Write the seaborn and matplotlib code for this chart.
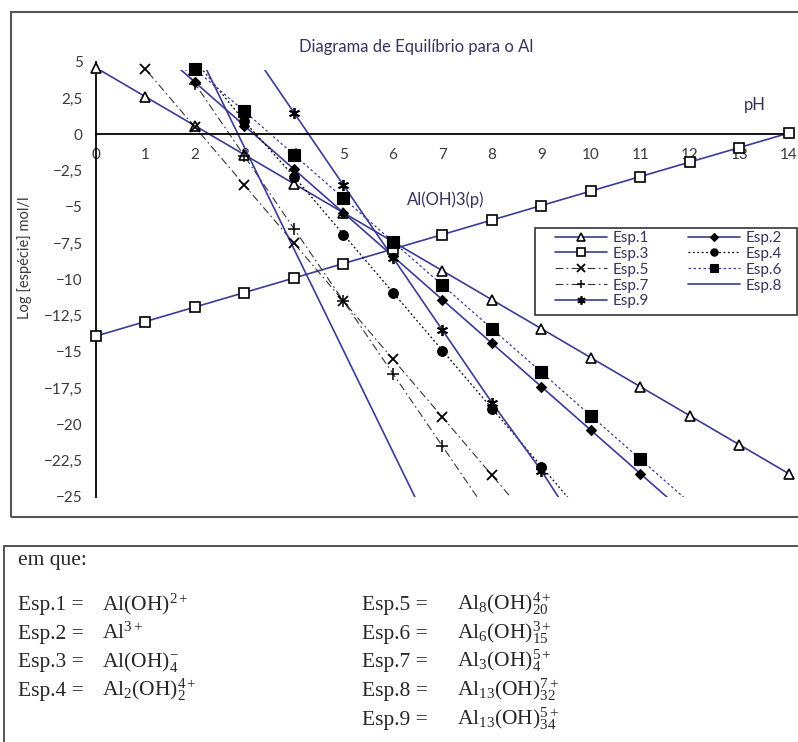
import matplotlib
matplotlib.use("Agg")
import matplotlib.pyplot as plt
import seaborn as sns
from matplotlib.patches import Rectangle
from matplotlib.lines import Line2D
from matplotlib.transforms import Bbox, TransformedBbox

sns.set_style("white")
plt.rcParams['font.family'] = ['Lato', 'DejaVu Sans']
plt.rcParams['mathtext.fontset'] = 'custom'
plt.rcParams['mathtext.rm'] = 'Liberation Serif'
plt.rcParams['mathtext.it'] = 'Liberation Serif:italic'

# ---------- data (log concentration vs pH) ----------
ph1 = [0, 1, 2, 3, 4, 5, 6, 7, 8, 9, 10, 11, 12, 13, 14]
esp1 = [4.6, 2.6, 0.6, -1.4, -3.4, -5.4, -7.4, -9.4, -11.4, -13.4, -15.4, -17.4, -19.4, -21.4, -23.4]

ph2 = [1, 2, 3, 4, 5, 6, 7, 8, 9, 10, 11, 12]
esp2 = [6.6, 3.6, 0.6, -2.4, -5.4, -8.4, -11.4, -14.4, -17.4, -20.4, -23.4, -26.4]

ph3 = [0, 1, 2, 3, 4, 5, 6, 7, 8, 9, 10, 11, 12, 13, 14]
esp3 = [-13.9, -12.9, -11.9, -10.9, -9.9, -8.9, -7.9, -6.9, -5.9, -4.9, -3.9, -2.9, -1.9, -0.9, 0.1]

ph4 = [2, 3, 4, 5, 6, 7, 8, 9, 10]
esp4 = [5.1, 0.9, -2.9, -6.9, -10.9, -14.9, -18.9, -22.9, -26.9]

ph5 = [0, 1, 2, 3, 4, 5, 6, 7, 8, 9]
esp5 = [8.5, 4.5, 0.5, -3.5, -7.5, -11.5, -15.5, -19.5, -23.5, -27.5]

ph6 = [1, 2, 3, 4, 5, 6, 7, 8, 9, 10, 11, 12]
esp6 = [7.6, 4.5, 1.6, -1.4, -4.4, -7.4, -10.4, -13.4, -16.4, -19.4, -22.4, -25.4]

ph7 = [1, 2, 3, 4, 5, 6, 7, 8]
esp7 = [8.5, 3.5, -1.5, -6.5, -11.5, -16.5, -21.5, -26.5]

ph8 = [2, 3, 4, 5, 6, 7]
esp8 = [6.1, -0.9, -7.9, -14.9, -21.9, -28.9]

ph9 = [3, 4, 5, 6, 7, 8, 9, 10]
esp9 = [6.5, 1.5, -3.5, -8.5, -13.5, -18.5, -23.2, -28.5]

x_ticks = [0, 1, 2, 3, 4, 5, 6, 7, 8, 9, 10, 11, 12, 13, 14]
y_ticks = [5, 2.5, 0, -2.5, -5, -7.5, -10, -12.5, -15, -17.5, -20, -22.5, -25]
y_tick_labels = ['5', '2,5', '0', '\u22122,5', '\u22125', '\u22127,5', '\u221210', '\u221212,5',
                 '\u221215', '\u221217,5', '\u221220', '\u221222,5', '\u221225']

names = ['Esp.1', 'Esp.2', 'Esp.3', 'Esp.4', 'Esp.5', 'Esp.6', 'Esp.7', 'Esp.8', 'Esp.9']
formulas = [r'$\mathrm{Al(OH)^{2+}}$', r'$\mathrm{Al^{3+}}$', r'$\mathrm{Al(OH)_4^{-}}$',
            r'$\mathrm{Al_2(OH)_2^{4+}}$', r'$\mathrm{Al_8(OH)_{20}^{4+}}$',
            r'$\mathrm{Al_6(OH)_{15}^{3+}}$', r'$\mathrm{Al_3(OH)_4^{5+}}$',
            r'$\mathrm{Al_{13}(OH)_{32}^{7+}}$', r'$\mathrm{Al_{13}(OH)_{34}^{5+}}$']

NAVY = '#3b3b96'
DASHDOT = (0, (7, 3, 1.5, 3))

styles = [
    dict(color=NAVY, lw=1.2, ls='-', marker='^', ms=7, mfc='white', mec='black', mew=1.2),
    dict(color=NAVY, lw=1.2, ls='-', marker='D', ms=5, mfc='black', mec='black', mew=0.8),
    dict(color=NAVY, lw=1.2, ls='-', marker='s', ms=7, mfc='white', mec='black', mew=1.2),
    dict(color='black', lw=0.9, ls=(0, (1.5, 2)), marker='o', ms=7, mfc='black', mec='black', mew=0.8),
    dict(color='#333333', lw=0.8, ls=DASHDOT, marker='x', ms=7, mfc='black', mec='black', mew=1.3),
    dict(color=NAVY, lw=0.9, ls=(0, (2, 2)), marker='s', ms=8, mfc='black', mec='black', mew=0.8),
    dict(color='#333333', lw=0.8, ls=DASHDOT, marker='+', ms=8, mfc='black', mec='black', mew=1.1),
    dict(color=NAVY, lw=1.2, ls='-', marker=None),
    dict(color=NAVY, lw=1.2, ls='-', marker=(6, 2, 0), ms=8, mfc='black', mec='black', mew=1.3),
]
series = [(ph1, esp1), (ph2, esp2), (ph3, esp3), (ph4, esp4), (ph5, esp5),
          (ph6, esp6), (ph7, esp7), (ph8, esp8), (ph9, esp9)]

W, H = 798, 742
fig = plt.figure(figsize=(W / 100, H / 100), dpi=100)
ax = fig.add_axes([76.2 / W, (H - 502.8) / H, 720.2 / W, 445.2 / H])
ax.patch.set_alpha(0)
ax.set_xlim(-0.4, 14.15)
ax.set_ylim(-25.4, 5.3)

Y_TOP, Y_BOT = 4.45, -25.0
clip = TransformedBbox(Bbox([[-0.35, Y_BOT], [14.15, Y_TOP]]), ax.transData)

handles = []
for (px, vals), name, st in zip(series, names, styles):
    sns.lineplot(x=px, y=vals, ax=ax, errorbar=None, legend=False,
                 color=st['color'], linewidth=st['lw'], linestyle=st['ls'])
    ax.lines[-1].set_clip_box(clip)
    mk = dict(marker='none')
    if st['marker'] is not None:
        mk = dict(marker=st['marker'], markersize=st['ms'], markerfacecolor=st['mfc'],
                  markeredgecolor=st['mec'], markeredgewidth=st['mew'])
        shown = [(p, v) for p, v in zip(px, vals) if Y_BOT <= v <= 4.7]
        ax.plot([p for p, _ in shown], [v for _, v in shown], linestyle='none',
                clip_on=False, zorder=3, **mk)
    handles.append(Line2D([], [], color=st['color'], linewidth=st['lw'],
                          linestyle=st['ls'], **mk))

# axes crossing at zero
for s in ['top', 'right']:
    ax.spines[s].set_visible(False)
ax.spines['left'].set_position(('data', 0))
ax.spines['bottom'].set_position(('data', 0))
ax.spines['left'].set_bounds(-25, 5)
ax.spines['bottom'].set_bounds(0, 14)
for s in ['left', 'bottom']:
    ax.spines[s].set_color('black')
    ax.spines[s].set_linewidth(1.3)

ax.set_xticks(x_ticks)
ax.set_xticklabels([str(t) for t in x_ticks])
ax.set_yticks(y_ticks)
ax.set_yticklabels(y_tick_labels)
ax.tick_params(direction='inout', length=7, width=1.2, color='black',
               labelsize=11, labelcolor='#3d3838')
ax.tick_params(axis='x', pad=6)
ax.tick_params(axis='y', pad=6)
ax.set_xlabel('')
ax.set_ylabel('')

txt_col = '#34345c'
ax.text(13.31, 2.0, 'pH', fontsize=12, color=txt_col, ha='center', va='center')
ax.text(7.07, -4.5, 'Al(OH)3(p)', fontsize=12, color=txt_col, ha='center', va='center')
fig.text(416 / W, 1 - 47 / H, 'Diagrama de Equilíbrio para o Al', fontsize=12,
         color=txt_col, ha='center', va='center')
fig.text(25 / W, 1 - 258 / H, 'Log [espécie] mol/l', fontsize=10.5, rotation=90,
         color='#3d3838', ha='center', va='center')

# legend: fixed white box, entries placed inside it
ax.add_patch(Rectangle((535 / W, 1 - 315 / H), 262 / W, 87 / H, transform=fig.transFigure,
                       facecolor='white', edgecolor='#333333', linewidth=1.2,
                       clip_on=False, zorder=4.9))
order = [0, 2, 4, 6, 8, 1, 3, 5, 7]
leg = ax.legend([handles[i] for i in order], [names[i] for i in order], ncol=2,
                loc='upper left', bbox_to_anchor=(555 / W, 1 - 231 / H),
                bbox_transform=fig.transFigure, fontsize=11, frameon=False,
                handlelength=3.4, handletextpad=0.4, columnspacing=2.5,
                borderpad=0, labelspacing=0.12, markerscale=0.75, borderaxespad=0)
leg.set_zorder(5)
for t in leg.get_texts():
    t.set_color(txt_col)

# frames around chart and caption
fig.add_artist(Rectangle((11 / W, 225 / H), 1.0, (517 - 12) / H, transform=fig.transFigure,
                         fill=False, edgecolor='#555555', linewidth=1.5))
fig.add_artist(Rectangle((4 / W, -0.05), 1.0, (H - 546) / H + 0.05, transform=fig.transFigure,
                         fill=False, edgecolor='#444444', linewidth=1.3))

serif = ['Liberation Serif', 'DejaVu Serif']
fig.text(18 / W, 1 - 565 / H, 'em que:', fontsize=15.5, family=serif, va='baseline')
rows = [610, 638.5, 667, 696, 725]
for i, (nm, fm) in enumerate(zip(names, formulas)):
    if i < 4:
        x0, x1, yb = 18, 102, rows[i]
    else:
        x0, x1, yb = 362, 457, rows[i - 4]
    fig.text(x0 / W, 1 - yb / H, nm + ' =', fontsize=15.5, family=serif, va='baseline')
    fig.text(x1 / W, 1 - yb / H, fm, fontsize=15.5, family=serif, va='baseline')

fig.savefig('out.png', dpi=100)
